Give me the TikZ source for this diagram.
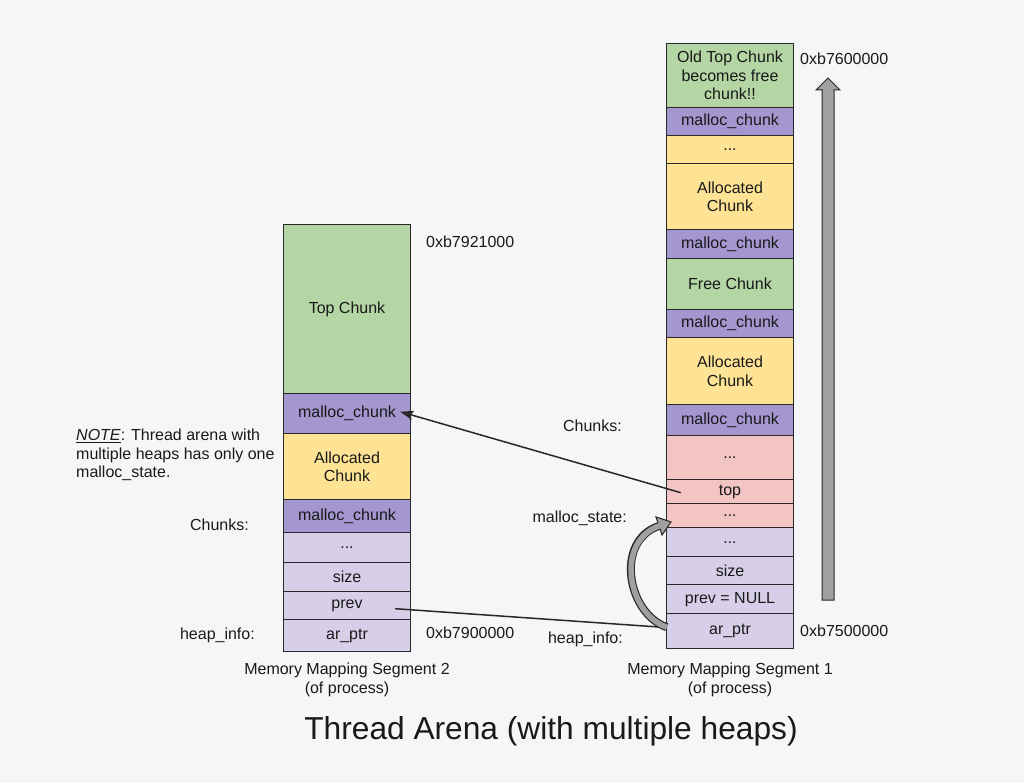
\documentclass[tikz,border=0pt]{standalone}
\usepackage{fontspec}
\setmainfont{Liberation Sans}
\usetikzlibrary{arrows.meta}
\definecolor{bgGray}{RGB}{245,246,248}
\definecolor{topG}{RGB}{180,213,164}
\definecolor{mcPurple}{RGB}{164,150,206}
\definecolor{allocY}{RGB}{255,227,148}
\definecolor{hdrLav}{RGB}{215,207,232}
\definecolor{stPink}{RGB}{242,196,196}
\definecolor{arrGray}{RGB}{160,160,160}
\definecolor{lineC}{RGB}{40,40,40}
\definecolor{inkC}{RGB}{25,25,25}

\begin{document}
\begin{tikzpicture}[x=1pt, y=-1pt, font=\fontsize{16}{18.5}\selectfont, text=inkC,
  cell/.style={draw=lineC, line width=1.4pt, minimum width=127pt, inner sep=0pt, align=center, anchor=north},
  lbl/.style={inner sep=0pt, align=center}]
  \fill[bgGray] (0,0) rectangle (1024,783);
  \useasboundingbox (0,0) rectangle (1024,783);
  % Left: memory mapping segment 2 (heap without malloc_state)
  \node[cell, fill=topG, minimum height=169pt] (lTop) at (347,224) {Top Chunk};
  \node[cell, fill=mcPurple, minimum height=40pt] (lMcB) at (347,393) {malloc\_chunk};
  \node[cell, fill=allocY, minimum height=66pt] (lAlloc) at (347,433) {Allocated\\Chunk};
  \node[cell, fill=mcPurple, minimum height=33pt] (lMcA) at (347,499) {malloc\_chunk};
  \node[cell, fill=hdrLav, minimum height=30pt] (lDots) at (347,532) {...};
  \node[cell, fill=hdrLav, minimum height=29pt] (lSize) at (347,562) {size};
  \node[cell, fill=hdrLav, minimum height=28pt] (lPrev) at (347,591) {prev};
  \node[cell, fill=hdrLav, minimum height=32pt] (lArPtr) at (347,619) {ar\_ptr};
  % Right: memory mapping segment 1 (heap with the one malloc_state)
  \node[cell, fill=topG, minimum height=64pt] (rOldTop) at (730,43) {Old Top Chunk\\becomes free\\chunk!!};
  \node[cell, fill=mcPurple, minimum height=28pt] (rMcD) at (730,107) {malloc\_chunk};
  \node[cell, fill=allocY, minimum height=28pt] (rDotsY) at (730,135) {...};
  \node[cell, fill=allocY, minimum height=66pt] (rAllocB) at (730,163) {Allocated\\Chunk};
  \node[cell, fill=mcPurple, minimum height=29pt] (rMcC) at (730,229) {malloc\_chunk};
  \node[cell, fill=topG, minimum height=51pt] (rFree) at (730,258) {Free Chunk};
  \node[cell, fill=mcPurple, minimum height=28pt] (rMcB) at (730,309) {malloc\_chunk};
  \node[cell, fill=allocY, minimum height=67pt] (rAllocA) at (730,337) {Allocated\\Chunk};
  \node[cell, fill=mcPurple, minimum height=31pt] (rMcA) at (730,404) {malloc\_chunk};
  \node[cell, fill=stPink, minimum height=44pt] (rDotsS) at (730,435) {...};
  \node[cell, fill=stPink, minimum height=24pt] (rTop) at (730,479) {top};
  \node[cell, fill=stPink, minimum height=24pt] (rDotsT) at (730,503) {...};
  \node[cell, fill=hdrLav, minimum height=29pt] (rDotsH) at (730,527) {...};
  \node[cell, fill=hdrLav, minimum height=28pt] (rSize) at (730,556) {size};
  \node[cell, fill=hdrLav, minimum height=29pt] (rPrev) at (730,584) {prev = NULL};
  \node[cell, fill=hdrLav, minimum height=35pt] (rArPtr) at (730,613) {ar\_ptr};
  % addresses and section labels
  \node[lbl, anchor=west] (lHigh) at (426,242) {0xb7921000};
  \node[lbl, anchor=west] (lLow) at (426,633) {0xb7900000};
  \node[lbl, anchor=west] (rHigh) at (800,59) {0xb7600000};
  \node[lbl, anchor=west] (rLow) at (800,631) {0xb7500000};
  \node[lbl, anchor=east] (lChunks) at (249,525) {Chunks:};
  \node[lbl, anchor=east] (lHeapInfo) at (255,635) {heap\_info:};
  \node[lbl, anchor=east] (rChunks) at (622,426) {Chunks:};
  \node[lbl, anchor=east] (rState) at (627,518) {malloc\_state:};
  \node[lbl, anchor=east] (rHeapInfo) at (623,639) {heap\_info:};
  \node[lbl, anchor=west, align=left] (note) at (76,455)
    {\underline{\textit{NOTE}}: Thread arena with\\multiple heaps has only one\\malloc\_state.};
  \node[lbl] (lCap) at (347,680) {Memory Mapping Segment 2\\(of process)};
  \node[lbl] (rCap) at (730,680) {Memory Mapping Segment 1\\(of process)};
  \node[lbl, font=\fontsize{31.7}{36}\selectfont] (title) at (551,731) {Thread Arena (with multiple heaps)};
  % growth direction of segment 1
  \draw[fill=arrGray, draw=lineC, line width=1pt] (822,600) -- (822,90) -- (816,90) -- (828,78)
    -- (840,90) -- (834,90) -- (834,600) -- cycle;
  % pointers
  \draw[line width=1.5pt, lineC, -{Stealth[length=13pt, width=9pt, inset=2pt]}]
    ([xshift=15pt, yshift=-1pt]rTop.west) -- ([xshift=-11pt, yshift=2pt]lMcB.east);
  \draw[line width=1.5pt, lineC] ([xshift=-16pt, yshift=-3pt]lPrev.east) -- ([xshift=-4pt, yshift=4pt]rArPtr.west);
  % ar_ptr points to the malloc_state in the same segment
  \draw[line width=8pt, lineC, -{Triangle[length=14pt, width=21pt, line width=1pt, fill=arrGray]}]
    ([xshift=1pt, yshift=4pt]rArPtr.west) .. controls +(-40,-14) and +(-57,19) .. ([xshift=6pt, yshift=-6pt]rDotsT.west);
  \draw[line width=5.6pt, arrGray, shorten >=12.5pt]
    ([xshift=1pt, yshift=4pt]rArPtr.west) .. controls +(-40,-14) and +(-57,19) .. ([xshift=6pt, yshift=-6pt]rDotsT.west);
\end{tikzpicture}
\end{document}
